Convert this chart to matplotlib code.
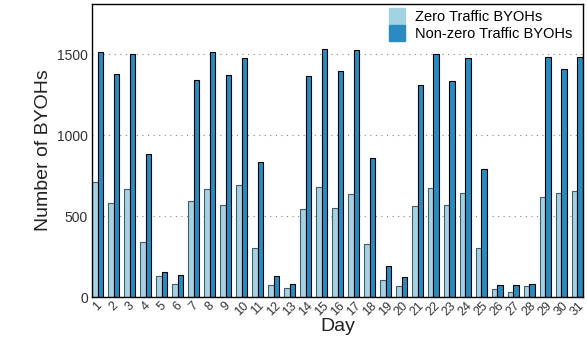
import numpy as np
import matplotlib
matplotlib.use("Agg")
import matplotlib.pyplot as plt
from matplotlib.lines import Line2D

plt.rcParams['font.family'] = ['Liberation Sans', 'DejaVu Sans']

days = list(range(1, 32))
zero_traffic = [712, 584, 669, 342, 130, 80, 595, 669, 570, 693, 305, 72, 53, 541, 681,
                551, 634, 329, 103, 70, 562, 675, 568, 642, 305, 51, 33, 66, 615, 644, 652]
nonzero_traffic = [1514, 1379, 1504, 881, 154, 134, 1342, 1517, 1372, 1477, 835, 132, 82, 1366, 1533,
                   1397, 1525, 860, 193, 123, 1311, 1502, 1337, 1477, 794, 72, 72, 82, 1484, 1412, 1484]

light = '#a3d2e3'
dark = '#2a8bc1'

fig = plt.figure(figsize=(5.87, 3.41), dpi=100)
ax = fig.add_axes([0.157, 0.129, 0.836, 0.859])

x = np.array(days)
w = 0.34
ax.bar(x - w / 2, zero_traffic, width=w, color=light, edgecolor='#4a5a62', linewidth=0.8, zorder=2)
ax.bar(x + w / 2, nonzero_traffic, width=w, color=dark, edgecolor='black', linewidth=0.8, zorder=2)

ax.set_xlim(1 - w, 31 + w)
ax.set_ylim(0, 1810)
ax.set_yticks([0, 500, 1000, 1500])
ax.set_xticks(x)
ax.set_xticklabels([str(d) for d in days], rotation=45, ha='center')
ax.tick_params(length=0, labelsize=10, colors='#333333', pad=3)
ax.tick_params(axis='x', labelsize=9, pad=2)
ax.yaxis.grid(True, linestyle=(0, (1, 4)), color='#888888', linewidth=0.8, zorder=0)
ax.set_axisbelow(True)
for s in ax.spines.values():
    s.set_color('black')
    s.set_linewidth(1.0)

ax.set_xlabel('Day', fontsize=14, color='#222222', labelpad=0)
ax.set_ylabel('Number of BYOHs', fontsize=14, color='#222222', labelpad=4)

handles = [Line2D([], [], marker='s', linestyle='none', markersize=12, color=light),
           Line2D([], [], marker='s', linestyle='none', markersize=12, color=dark)]
ax.legend(handles, ['Zero Traffic BYOHs', 'Non-zero Traffic BYOHs'], loc='upper right',
          frameon=False, fontsize=10.5, handletextpad=0.2, borderaxespad=0.0,
          labelspacing=0.2, bbox_to_anchor=(0.99, 1.0))

fig.savefig('out.png', dpi=100)
